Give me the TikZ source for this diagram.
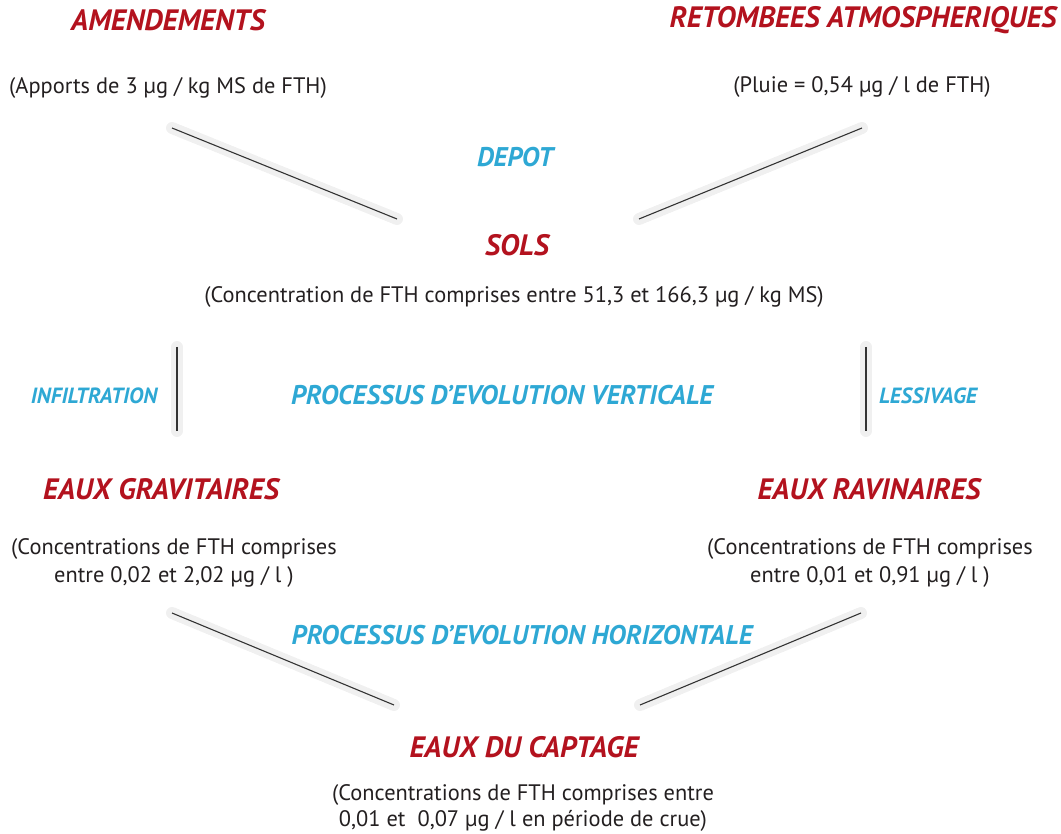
\documentclass[tikz,border=0pt]{standalone}
\usepackage{fontspec}
\setmainfont{PT Sans}
\definecolor{titred}{HTML}{B3121E}
\definecolor{proccyan}{HTML}{2EA8D4}
\definecolor{bodygray}{HTML}{231F20}
\tikzset{
  ttl/.style={text=titred,font=\fontsize{29.5}{34}\selectfont\bfseries\itshape,inner sep=0pt,anchor=center},
  prc/.style={text=proccyan,font=\fontsize{27}{30}\selectfont\bfseries\itshape,inner sep=0pt,anchor=center},
  prcs/.style={text=proccyan,font=\fontsize{22}{26}\selectfont\bfseries\itshape,inner sep=0pt,anchor=center},
  bdy/.style={text=bodygray,font=\fontsize{22.4}{27.5}\selectfont,inner sep=0pt,anchor=center,align=center},
  conn/.style={draw=black!80,line width=1.1pt},
  shad/.style={draw=black,line width=12pt,opacity=0.02,line cap=round},
}
\begin{document}
\begin{tikzpicture}[x=1pt,y=-1pt]
\useasboundingbox (0,0) rectangle (1061,834);
% texts
\node[ttl] (amend) at (168,20) {AMENDEMENTS};
\node[bdy] (amendv) at (168,88) {(Apports de 3 µg / kg MS de FTH)};
\node[ttl] (retomb) at (863,20) {RETOMBEES ATMOSPHERIQUES};
\node[bdy] (retombv) at (862,87) {(Pluie = 0,54 µg / l de FTH)};
\node[prc] (depot) at (515,157) {DEPOT};
\node[ttl] (sols) at (517,245) {SOLS};
\node[bdy] (solsv) at (514,297) {(Concentration de FTH comprises entre 51,3 et 166,3 µg / kg MS)};
\node[prcs] (infil) at (94,396) {INFILTRATION};
\node[prc] (pvert) at (502,395) {PROCESSUS D’EVOLUTION VERTICALE};
\node[prcs] (lessiv) at (928,396) {LESSIVAGE};
\node[ttl] (grav) at (161,489) {EAUX GRAVITAIRES};
\node[bdy] (gravv) at (174,563) {(Concentrations de FTH comprises\\entre 0,02 et 2,02 µg / l )};
\node[ttl] (ravin) at (869,489) {EAUX RAVINAIRES};
\node[bdy] (ravinv) at (870,563) {(Concentrations de FTH comprises\\entre 0,01 et 0,91 µg / l )};
\node[prc] (phori) at (522,635) {PROCESSUS D’EVOLUTION HORIZONTALE};
\node[ttl] (capt) at (524,747) {EAUX DU CAPTAGE};
\node[bdy,font=\fontsize{22.4}{26}\selectfont] (captv) at (523,808) {(Concentrations de FTH comprises entre\\0,01 et\ \ 0,07 µg / l en période de crue)};
% line ends
\coordinate (a1) at (172,128); \coordinate (a2) at (397,219);
\coordinate (r1) at (862,128); \coordinate (r2) at (639,219);
\coordinate (i1) at (177,347); \coordinate (i2) at (177,431);
\coordinate (l1) at (866,347); \coordinate (l2) at (866,431);
\coordinate (g1) at (172,613); \coordinate (g2) at (394,705);
\coordinate (v1) at (861,613); \coordinate (v2) at (640,705);
% shadows
\foreach \s in {0,2,4}{
  \begin{scope}[shift={(3+\s,7+\s)}]
    \draw[shad] (a1) -- (a2); \draw[shad] (r1) -- (r2);
    \draw[shad] (g1) -- (g2); \draw[shad] (v1) -- (v2);
  \end{scope}
  \begin{scope}[shift={(8+\s,3)}]
    \draw[shad] (i1) -- (i2); \draw[shad] (l1) -- (l2);
  \end{scope}
}
% connectors
\draw[conn] (a1) -- (a2);
\draw[conn] (r1) -- (r2);
\draw[conn] (i1) -- (i2);
\draw[conn] (l1) -- (l2);
\draw[conn] (g1) -- (g2);
\draw[conn] (v1) -- (v2);
\end{tikzpicture}
\end{document}
